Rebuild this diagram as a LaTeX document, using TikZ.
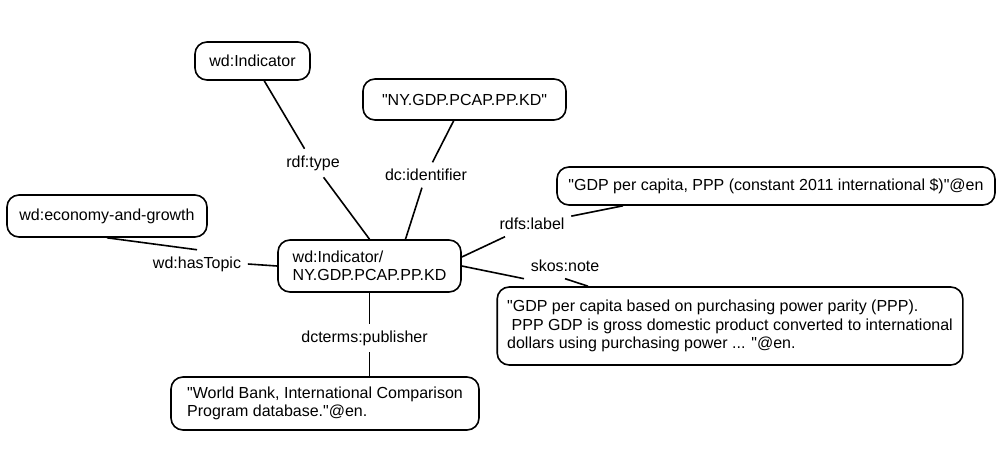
\documentclass[tikz,border=0pt]{standalone}
\usepackage{fontspec}
\newfontfamily\arialf{Liberation Sans}
\usetikzlibrary{calc}

\begin{document}
\begin{tikzpicture}[x=1pt, y=-1pt,
  font=\arialf\fontsize{16}{18.5}\selectfont, line width=1.6pt,
  resn/.style={draw, rounded corners=12pt, align=left, inner xsep=10pt},
  litn/.style={resn},
  propn/.style={inner sep=6pt}]
  \useasboundingbox[fill=white] (0,0) rectangle (1006,448);
  \node[resn, minimum width=183pt, minimum height=52pt] (main) at (369.5,266) {wd:Indicator/\\NY.GDP.PCAP.PP.KD};
  \node[resn, minimum width=115pt, minimum height=38pt] (ind) at (252.5,61) {wd:Indicator};
  \node[litn, minimum width=203pt, minimum height=41pt] (ident) at (464.5,99.5) {"NY.GDP.PCAP.PP.KD"};
  \node[resn, minimum width=200pt, minimum height=42pt] (eco) at (107,216) {wd:economy-and-growth};
  \node[litn, minimum width=438pt, minimum height=38pt] (lblv) at (776,186) {"GDP per capita, PPP (constant 2011 international \$)"@en};
  \node[litn, minimum width=464pt, minimum height=78pt] (note) at (730,326) {"GDP per capita based on purchasing power parity (PPP).\\\hspace*{4.5pt}PPP GDP is gross domestic product converted to international\\dollars using purchasing power ... "@en.};
  \node[litn, minimum width=308pt, minimum height=53pt] (pub) at (325,403.5) {"World Bank, International Comparison\\Program database."@en.};

  \node[propn] (typeL) at (313,163) {rdf:type};
  \node[propn] (idL) at (426,175) {dc:identifier};
  \node[propn] (topicL) at (197,264) {wd:hasTopic};
  \node[propn] (labelL) at (532,224) {rdfs:label};
  \node[propn] (noteL) at (565,266) {skos:note};
  \node[propn] (pubL) at (364.5,338) {dcterms:publisher};

  \draw (ind) -- (typeL);
  \draw (typeL) -- (main.north);
  \draw (ident) -- (idL);
  \draw (idL) -- ([xshift=36pt]main.north);
  \draw (eco.south) -- (topicL.north);
  \draw (topicL.east) -- (main.west);
  \draw ([yshift=9pt]main.east) -- (labelL);
  \draw (labelL) -- ([xshift=-153pt]lblv.south);
  \draw (main.east) -- (noteL.south west);
  \draw (noteL.south) -- ([xshift=-142pt]note.north);
  \draw (main.south) -- (main.south |- pubL.north);
  \draw (main.south |- pubL.south) -- (main.south |- pub.north);
\end{tikzpicture}
\end{document}
